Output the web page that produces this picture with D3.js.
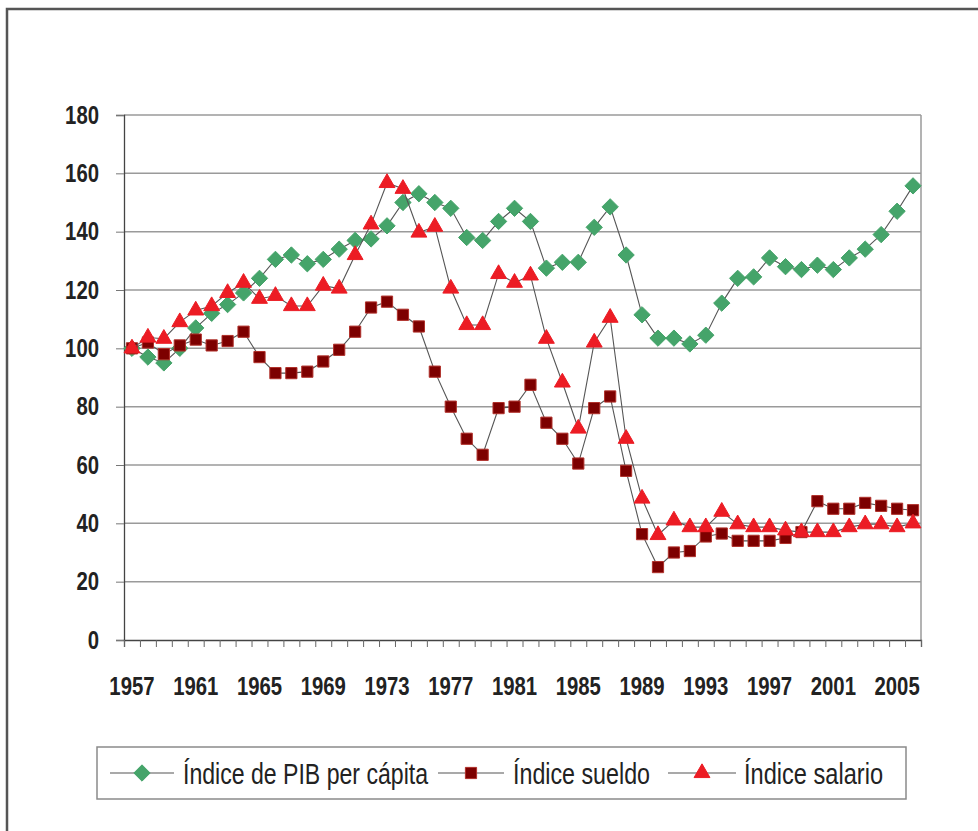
<!DOCTYPE html>
<html>
<head>
<meta charset="utf-8">
<script src="https://cdn.jsdelivr.net/npm/d3@7"></script>
<style>
  body { margin: 0; background: #fff; }
  svg text { font-family: "Liberation Sans", Arial, sans-serif; fill: #222; }
</style>
</head>
<body>
<svg width="978" height="831"></svg>
<script>
const width = 978;
const height = 831;
const margin = {top: 115, right: 57, bottom: 191, left: 124};

const years = d3.range(1957, 2007);
const yTicks = [0, 20, 40, 60, 80, 100, 120, 140, 160, 180];

const pib = [100, 97, 95, 100, 107, 112, 115, 119, 124, 130.5, 132, 129, 130.5, 134, 137, 137.5, 142, 150, 153, 150,
             148, 138, 137, 143.5, 148, 143.5, 127.5, 129.5, 129.5, 141.5, 148.5, 132, 111.5, 103.5, 103.5, 101.5, 104.5, 115.5, 124, 124.5,
             131, 128, 127, 128.5, 127, 131, 134, 139, 147, 155.7];
const sueldo = [100, 102, 98, 101, 103, 101, 102.5, 105.7, 97, 91.5, 91.5, 92, 95.5, 99.5, 105.7, 114, 116, 111.5, 107.5, 92,
                80, 69, 63.5, 79.5, 80, 87.5, 74.5, 69, 60.5, 79.5, 83.5, 58, 36.3, 25, 30, 30.5, 35.5, 36.5, 34, 34,
                34, 35, 37, 47.6, 45, 45, 47, 46, 45, 44.5];
const salario = [100, 103.7, 103.3, 109, 113, 114.5, 119, 122.5, 117, 118, 114.5, 114.5, 121.5, 120.5, 132, 142.5, 156.7, 154.7, 139.7, 141.7,
                 120.5, 108, 108, 125.5, 122.5, 125, 103.3, 88.3, 72.5, 102, 110.5, 69, 48.5, 36, 41, 38.7, 38.7, 44, 39.7, 38.7,
                 38.7, 37.6, 37, 37, 37, 38.7, 39.7, 39.7, 38.7, 40];

const seriesNames = ["Índice de PIB per cápita", "Índice sueldo", "Índice salario"];

const svg = d3.select("svg");
const iw = width - margin.left - margin.right;
const ih = height - margin.top - margin.bottom;

// the original uses a narrow bold face; squeeze Liberation Sans to fit
const narrow = (sel, perChar) => sel.each(function() {
    const n = this.textContent.length;
    d3.select(this)
        .attr("textLength", n * perChar)
        .attr("lengthAdjust", "spacingAndGlyphs");
});

// outer frame (only top and left visible)
svg.append("path")
    .attr("d", `M7,${height} V9 H${width}`)
    .attr("fill", "none")
    .attr("stroke", "#555")
    .attr("stroke-width", 2.5);

const g = svg.append("g")
    .attr("transform", `translate(${margin.left},${margin.top})`);

const x = d3.scaleBand().domain(years).range([0, iw]).padding(0);
const xEdge = d3.scaleLinear().domain([0, years.length]).range([0, iw]);
const y = d3.scaleLinear().domain([0, 180]).range([ih, 0]);

// gridlines + plot border
g.append("g")
    .selectAll("line")
    .data(yTicks.filter(d => d > 0))
    .join("line")
        .attr("x1", 0).attr("x2", iw)
        .attr("y1", d => y(d)).attr("y2", d => y(d))
        .attr("stroke", "#9a9a9a")
        .attr("stroke-width", 1.5);

g.append("line")
    .attr("x1", iw).attr("x2", iw).attr("y1", 0).attr("y2", ih)
    .attr("stroke", "#9a9a9a").attr("stroke-width", 1.5);

// y axis
const yAxis = g.append("g")
    .call(d3.axisLeft(y).tickValues(yTicks).tickSize(8).tickPadding(17));
yAxis.select(".domain").attr("stroke", "#444").attr("stroke-width", 1.3);
yAxis.selectAll(".tick line").attr("stroke", "#777");
yAxis.selectAll("text")
    .style("font-size", "26px")
    .style("font-weight", "bold")
    .attr("fill", "#222")
    .call(narrow, 11.3);

// x axis: tick marks between categories
const xTicks = g.append("g")
    .attr("transform", `translate(0,${ih})`)
    .call(d3.axisBottom(xEdge).tickValues(d3.range(0, years.length + 1)).tickSize(7).tickFormat(""));
xTicks.select(".domain").attr("stroke", "#444").attr("stroke-width", 1.3);
xTicks.selectAll(".tick line").attr("stroke", "#666");

// x labels every 4 years
const xLabels = g.append("g")
    .attr("transform", `translate(0,${ih})`)
    .call(d3.axisBottom(x).tickValues(years.filter((d, i) => i % 4 === 0)).tickSize(0).tickPadding(37));
xLabels.select(".domain").remove();
xLabels.selectAll("text")
    .style("font-size", "26px")
    .style("font-weight", "bold")
    .attr("fill", "#222")
    .call(narrow, 11.3);

const cx = yr => x(yr) + x.bandwidth() / 2;

const lineGen = d3.line()
    .x((d, i) => cx(years[i]))
    .y(d => y(d));

const diamond = d3.symbol().type(d3.symbolDiamond2).size(170)();
const square = d3.symbol().type(d3.symbolSquare2).size(160)();
const triangle = d3.symbol().type(d3.symbolTriangle2).size(180)();

const series = [
    {name: seriesNames[0], values: pib, path: diamond, fill: "#45a46a", stroke: "#45a46a", w: 245},
    {name: seriesNames[1], values: sueldo, path: square, fill: "#7d0000", stroke: "#b0302a", w: 137},
    {name: seriesNames[2], values: salario, path: triangle, fill: "#ec1c24", stroke: "#ec1c24", w: 139}
];

series.forEach(s => {
    g.append("path")
        .datum(s.values)
        .attr("fill", "none")
        .attr("stroke", "#555")
        .attr("stroke-width", 1.1)
        .attr("d", lineGen);

    g.append("g")
        .selectAll("path")
        .data(s.values)
        .join("path")
            .attr("d", s.path)
            .attr("transform", (d, i) => `translate(${cx(years[i])},${y(d)})`)
            .attr("fill", s.fill)
            .attr("stroke", s.stroke)
            .attr("stroke-width", 1);
});

// legend
const legend = svg.append("g");
legend.append("rect")
    .attr("x", 97).attr("y", 747)
    .attr("width", 809).attr("height", 52)
    .attr("fill", "#fff")
    .attr("stroke", "#8a8a8a")
    .attr("stroke-width", 1.5);

const legendPos = [{lx: 110, mx: 142, tx: 183}, {lx: 438, mx: 471, tx: 513}, {lx: 668, mx: 702, tx: 744}];
series.forEach((s, i) => {
    const p = legendPos[i];
    const item = legend.append("g").attr("transform", "translate(0,773)");
    item.append("line")
        .attr("x1", p.lx).attr("x2", 2 * p.mx - p.lx)
        .attr("stroke", "#555").attr("stroke-width", 1.1);
    item.append("path")
        .attr("d", s.path)
        .attr("transform", `translate(${p.mx},0)`)
        .attr("fill", s.fill)
        .attr("stroke", s.stroke);
    item.append("text")
        .attr("x", p.tx)
        .attr("dy", "0.36em")
        .attr("textLength", s.w)
        .attr("lengthAdjust", "spacingAndGlyphs")
        .style("font-size", "30px")
        .style("font-weight", "500")
        .text(s.name);
});
</script>
</body>
</html>
